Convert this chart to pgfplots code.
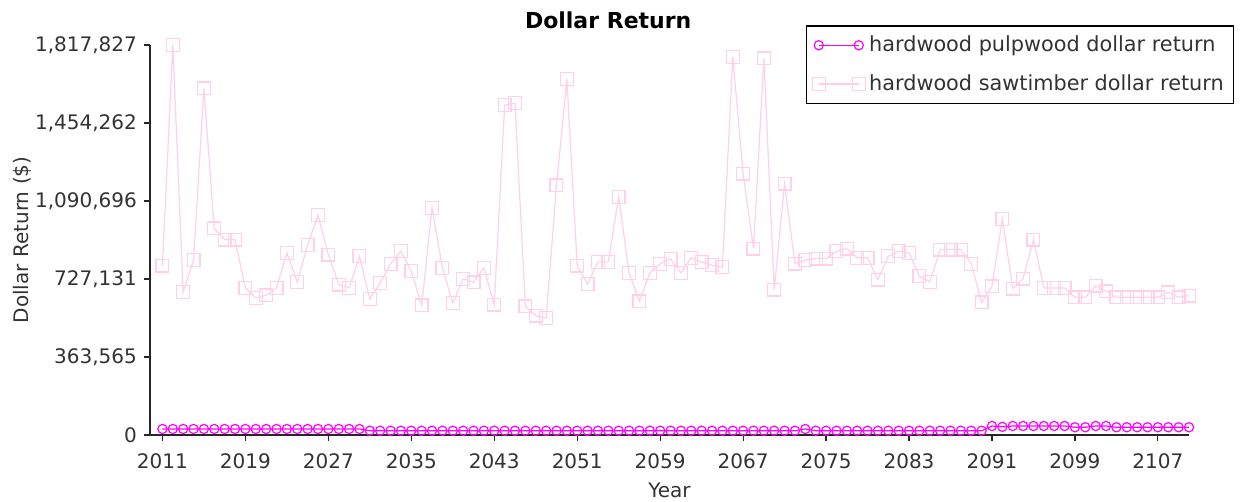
\documentclass[border=0pt]{standalone}
\usepackage{pgfplots}
\usepackage{pgfplotstable}
\usepackage{fontspec}
\setmainfont{DejaVu Sans}
\pgfplotsset{compat=1.18}

\definecolor{pulpcol}{RGB}{255,0,255}
\definecolor{sawcol}{RGB}{255,208,232}

% dollar return per year
\pgfplotstableread{
year saw pulp
2011 789700 28000
2012 1817827 28000
2013 666800 28000
2014 814500 28000
2015 1615400 28000
2016 962600 28000
2017 911200 28000
2018 911200 28000
2019 685500 28000
2020 638800 28000
2021 651000 28000
2022 685500 28000
2023 849000 28000
2024 713500 28000
2025 884700 28000
2026 1024800 28000
2027 841100 28000
2028 701000 28000
2029 685500 28000
2030 833200 28000
2031 634100 20000
2032 708900 20000
2033 797700 20000
2034 856600 20000
2035 763100 20000
2036 604200 20000
2037 1059400 20000
2038 779000 20000
2039 615400 20000
2040 727600 20000
2041 711700 20000
2042 779000 20000
2043 607500 20000
2044 1537400 20000
2045 1546800 20000
2046 599500 20000
2047 556100 20000
2048 545300 20000
2049 1163600 20000
2050 1658900 20000
2051 789700 20000
2052 704200 20000
2053 807000 20000
2054 807000 20000
2055 1110700 20000
2056 755600 20000
2057 622900 20000
2058 755600 20000
2059 797700 20000
2060 821000 20000
2061 755600 20000
2062 825700 20000
2063 807000 20000
2064 791100 20000
2065 781800 20000
2066 1763100 20000
2067 1218200 20000
2068 869200 20000
2069 1755600 20000
2070 677600 20000
2071 1171500 20000
2072 799100 20000
2073 814500 28000
2074 822400 20000
2075 822400 20000
2076 856600 20000
2077 869200 20000
2078 825700 20000
2079 825700 20000
2080 724300 20000
2081 833200 20000
2082 856600 20000
2083 849000 20000
2084 739700 20000
2085 713500 20000
2086 864500 20000
2087 864500 20000
2088 864500 20000
2089 797700 20000
2090 618200 20000
2091 693000 42000
2092 1008000 38000
2093 682300 42000
2094 729000 42000
2095 911200 42000
2096 685500 42000
2097 685500 42000
2098 685500 42000
2099 641600 36000
2100 641600 36000
2101 696300 42000
2102 669600 42000
2103 641600 36000
2104 641600 36000
2105 641600 36000
2106 641600 36000
2107 641600 36000
2108 665000 36000
2109 641600 36000
2110 649500 36000
}\returns

\begin{document}
\begin{tikzpicture}
\useasboundingbox (-75pt,-33.5pt) rectangle (545.5pt,217.5pt);
\begin{axis}[
    scale only axis,
    width=519.5pt, height=195pt,
    xmin=2009.8, xmax=2110,
    ymin=0, ymax=1817827,
    clip=false,
    axis lines=left,
    axis line style={-, line width=0.9pt, black!85},
    tick align=outside,
    major tick length=3pt,
    tick style={black!85, line width=0.6pt},
    xtick={2011,2019,...,2107},
    ytick={0,363565,727131,1090696,1454262,1817827},
    yticklabels={0,{363,565},{727,131},{1,090,696},{1,454,262},{1,817,827}},
    scaled y ticks=false,
    x tick label style={/pgf/number format/1000 sep={}, /pgf/number format/assume math mode=true, yshift=-3pt},
    tick label style={font=\fontsize{10}{12}\selectfont, text=black!80},
    xlabel={Year},
    ylabel={Dollar Return (\$)},
    label style={font=\fontsize{10}{12}\selectfont, text=black!80},
    ylabel style={at={(axis description cs:-0.1232,0.5)}, anchor=center},
    title={Dollar Return},
    title style={at={(axis description cs:0.441,1)}, anchor=base, yshift=2pt,
        font=\fontsize{11}{13}\selectfont\bfseries},
    legend style={at={(axis description cs:0.631,1.051)}, anchor=north west,
        draw=black, line width=0.75pt, font=\fontsize{10.4}{12}\selectfont,
        row sep=6pt, inner sep=3pt, text=black!80},
    legend cell align=left,
    legend image code/.code={\draw[#1] plot coordinates {(0pt,0pt) (20pt,0pt)};},
]
\addplot[pulpcol, line width=0.6pt, mark=o, mark size=2.3pt] table[x=year, y=pulp] {\returns};
\addlegendentry{hardwood pulpwood dollar return}
\addplot[sawcol, line width=0.6pt, mark=square, mark size=3.2pt] table[x=year, y=saw] {\returns};
\addlegendentry{hardwood sawtimber dollar return}
\end{axis}
\end{tikzpicture}
\end{document}
